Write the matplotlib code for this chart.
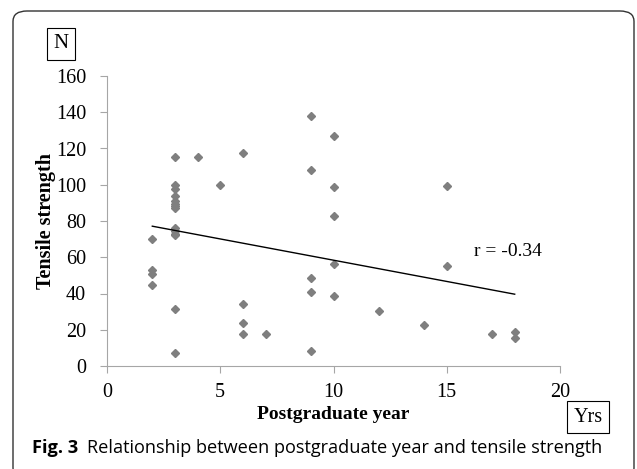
import numpy as np
import matplotlib
matplotlib.use("Agg")
from matplotlib import pyplot as plt
from matplotlib.patches import FancyBboxPatch

# postgraduate year vs tensile strength (N)
years = ([2] * 4 + [3] * 14 + [4, 5, 6, 6, 6, 6, 7] + [9] * 5 + [10] * 5
         + [12, 14, 15, 15, 17, 18, 18])
strength = [70, 53, 51, 44.7,
            115.5, 100, 97.6, 94, 91, 89.5, 88, 87, 76, 74.5, 73, 72, 31.3, 7.4,
            115.5, 100, 117.5, 34.4, 23.5, 17.6, 17.8,
            138, 108, 48.3, 40.6, 8.1,
            127, 98.6, 83, 56.4, 38.6,
            30.3, 22.4, 99.1, 55.3, 17.6, 18.8, 15.4]
r_text = "r = -0.34"
xticks = [0, 5, 10, 15, 20]
yticks = [0, 20, 40, 60, 80, 100, 120, 140, 160]

serif = "Liberation Serif"
W, H = 637, 469
fig = plt.figure(figsize=(W / 100, H / 100), dpi=100)

# rounded frame around figure + caption
frame = FancyBboxPatch((13 / W, -0.02), (634 - 13) / W, (H - 11) / H + 0.02,
                       boxstyle="round,pad=0,rounding_size=0.022",
                       transform=fig.transFigure, fill=False, ec="#333333", lw=1.0)
fig.patches.append(frame)

ax = fig.add_axes([107 / W, (H - 366) / H, (560 - 107) / W, (366 - 76) / H])
x = np.array(years, dtype=float)
y = np.array(strength, dtype=float)
ax.plot(x, y, "D", color="#7f7f7f", ms=3.6, mec="#7f7f7f", clip_on=False)

# linear trend line
slope, icpt = np.polyfit(x, y, 1)
xl = np.array([x.min(), x.max()])
ax.plot(xl, slope * xl + icpt, color="black", lw=1.0)
ax.text(16.2, 63.4, r_text, fontsize=14, family=serif, va="center", ha="left")

ax.set_xlim(0, 20)
ax.set_ylim(0, 160)
ax.set_xticks(xticks)
ax.set_yticks(yticks)
for s in ["top", "right"]:
    ax.spines[s].set_visible(False)
for s in ["left", "bottom"]:
    ax.spines[s].set_color("#a6a6a6")
ax.tick_params(direction="out", length=5, color="#a6a6a6", labelsize=14.5)
ax.tick_params(axis="y", pad=10)
ax.tick_params(axis="x", pad=7)
for lab in ax.get_xticklabels() + ax.get_yticklabels():
    lab.set_family(serif)
ax.set_xlabel("Postgraduate year", fontsize=14, family=serif, fontweight="bold", labelpad=3)
ax.set_ylabel("Tensile strength", fontsize=14.5, family=serif, fontweight="bold", labelpad=0)

box = dict(boxstyle="square,pad=0.3", fc="white", ec="black", lw=0.8)
fig.text(61 / W, 1 - 44 / H, "N", fontsize=15, family=serif, ha="center", va="center", bbox=box)
fig.text(588 / W, 1 - 417 / H, "Yrs", fontsize=14.5, family=serif, ha="center", va="center", bbox=box)

fig.text(32 / W, 1 - 448 / H, "Fig. 3", fontsize=13.1, family="Open Sans", fontweight="bold",
         ha="left", va="center")
fig.text(87 / W, 1 - 448 / H, "Relationship between postgraduate year and tensile strength",
         fontsize=13.1, family="Open Sans", ha="left", va="center")

fig.savefig("out.png", dpi=100)
